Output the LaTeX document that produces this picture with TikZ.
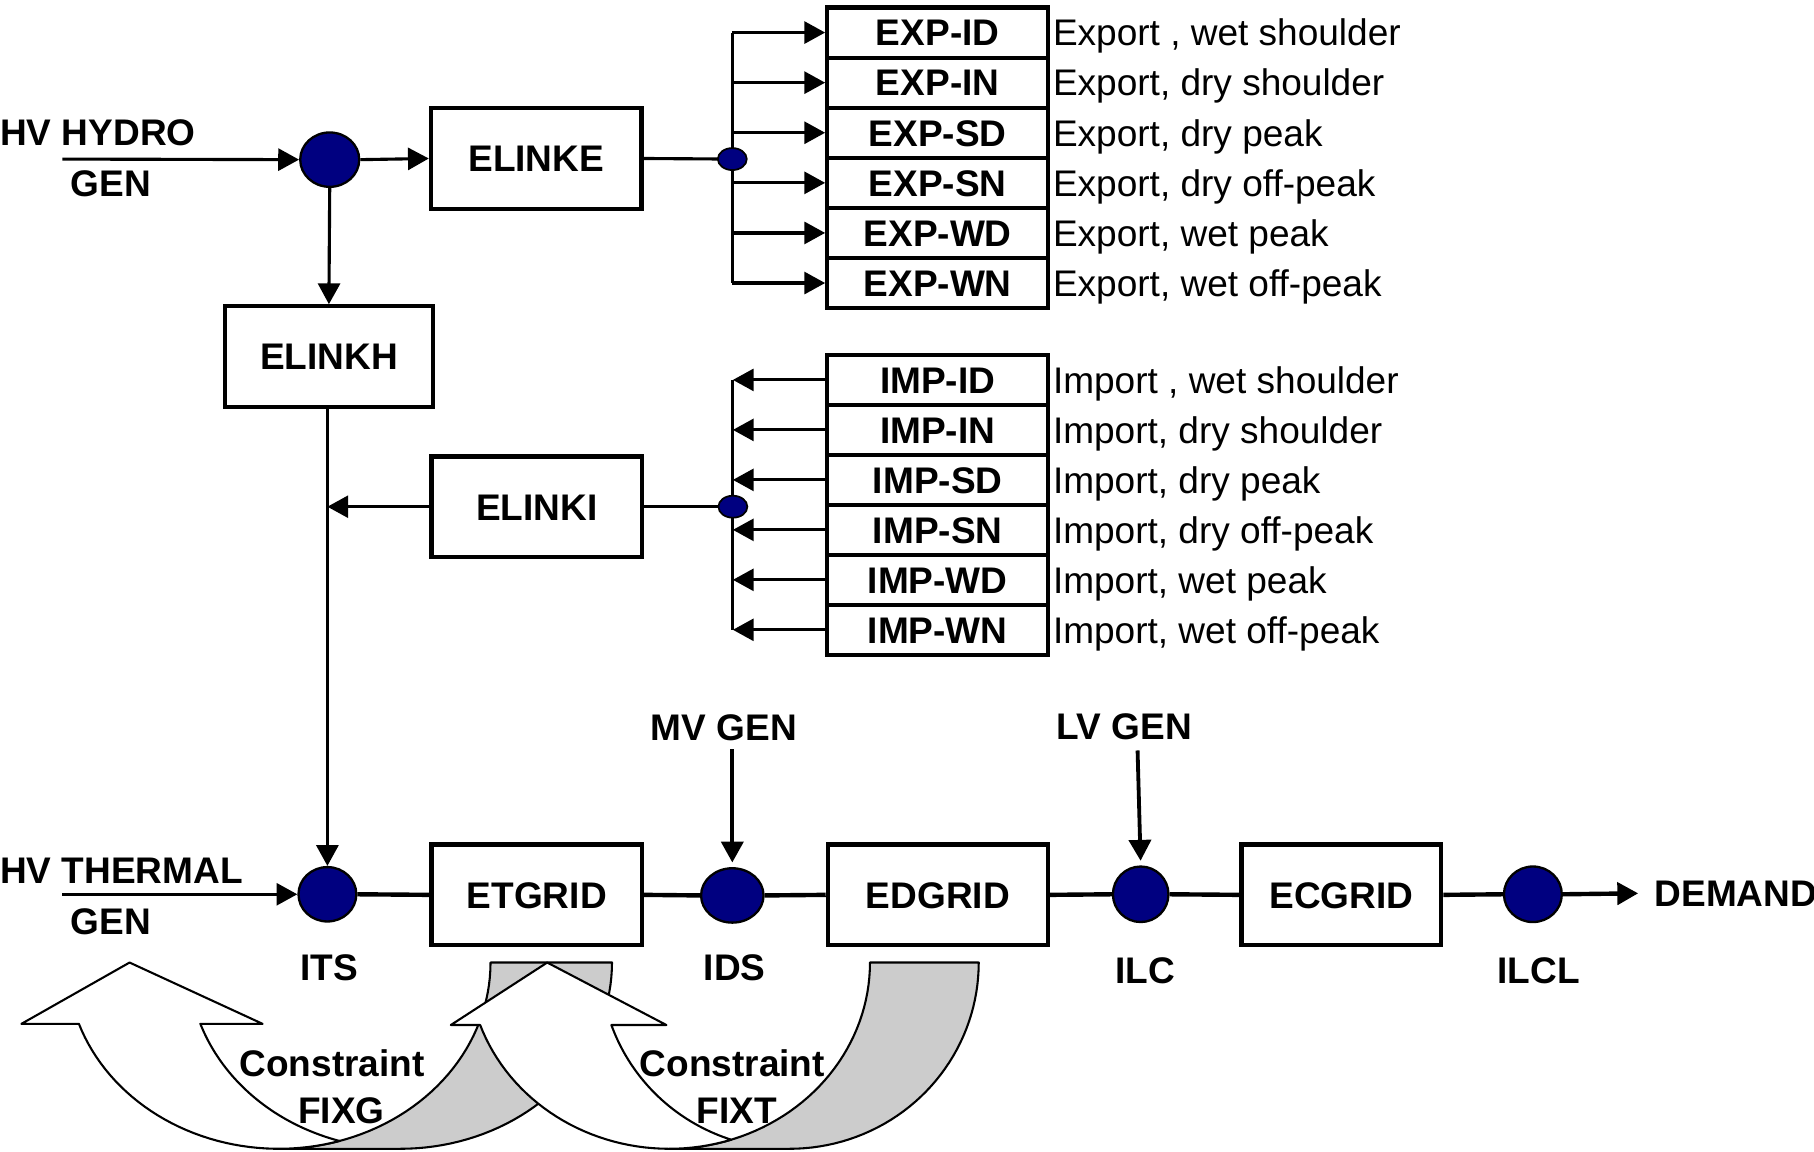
\documentclass[tikz,border=0pt]{standalone}
\usepackage{fontspec}
\setmainfont{Liberation Sans}
\usetikzlibrary{arrows.meta,shapes.geometric,calc}
\definecolor{navyfill}{RGB}{0,0,128}
\definecolor{backgray}{RGB}{204,204,204}
\begin{document}
\begin{tikzpicture}[x=1pt,y=-1pt,
  lbl/.style={font=\fontsize{32}{38}\selectfont\bfseries, inner sep=0pt, text height=23pt, text depth=0pt},
  desc/.style={font=\fontsize{32}{38}\selectfont, inner sep=0pt, text height=23pt, text depth=0pt, anchor=west},
  blk/.style={lbl, draw, line width=3.7pt, rectangle, minimum width=182pt, minimum height=87pt},
  rowbox/.style={lbl, draw, line width=3.5pt, rectangle, minimum width=191pt, minimum height=43.3pt},
  junc/.style={ellipse, draw, line width=2pt, fill=navyfill, minimum width=50pt, minimum height=47pt, inner sep=0pt},
  sjunc/.style={ellipse, draw, line width=1.5pt, fill=navyfill, minimum width=25pt, minimum height=19pt, inner sep=0pt},
  arr/.style={-{Triangle[length=18pt,width=19pt]}},
  lnA/.style={line width=2.7pt},
  lnB/.style={line width=3.8pt},
  lnC/.style={line width=3.3pt},
  band/.style={draw, line width=1.8pt, line join=round},
]
\useasboundingbox (0,0) rectangle (1568,995);

% ---------- curved constraint arrows ----------
% FIXG: back (gray) arm
\filldraw[band, fill=backgray]
  plot[domain=0:90, samples=40] ({346+183*cos(\x)},{832+161*sin(\x)})
  -- plot[domain=90:0, samples=40] ({241+183*cos(\x)},{832+161*sin(\x)}) -- cycle;
% FIXG: front (white) arm with head
\filldraw[band, fill=white]
  plot[domain=73.3:160.8, samples=40] ({241+183*cos(\x)},{832+161*sin(\x)})
  -- (18.5,885) -- (112,832) -- (227,885)
  -- plot[domain=160.8:106.7, samples=40] ({346+183*cos(\x)},{832+161*sin(\x)}) -- cycle;
% FIXT: back (gray) arm
\filldraw[band, fill=backgray]
  plot[domain=0:90, samples=40] ({682.5+163.5*cos(\x)},{832+161*sin(\x)})
  -- plot[domain=90:0, samples=40] ({578.5+173.5*cos(\x)},{832+161*sin(\x)}) -- cycle;
% FIXT: front (white) arm with head
\filldraw[band, fill=white]
  plot[domain=72.05:160.4, samples=40] ({578.5+173.5*cos(\x)},{832+161*sin(\x)})
  -- (389.7,886) -- (473,832) -- (576,886)
  -- plot[domain=160.4:108, samples=40] ({682.5+163.5*cos(\x)},{832+161*sin(\x)}) -- cycle;

\node[lbl] (c1a) at (287,919) {Constraint};
\node[lbl] (c1b) at (295,960) {FIXG};
\node[lbl] (c2a) at (633,919) {Constraint};
\node[lbl] (c2b) at (637,960) {FIXT};

% ---------- top: hydro / export ----------
\node[lbl, anchor=west] (hvh) at (0,114) {HV HYDRO};
\node[lbl] (hvhg) at (96,158.5) {GEN};
\coordinate (hydin) at (54,137.5);
\node[junc, minimum width=51pt] (J) at (285,138) {};
\node[blk] (elinke) at (463.5,137) {ELINKE};
\node[blk, minimum width=179.5pt] (elinkh) at (284.3,308.3) {ELINKH};
\node[blk] (elinki) at (464,438) {ELINKI};
\coordinate (sepos) at (633,137.5);
\coordinate (sipos) at (633.5,438);

\foreach \lab/\txt [count=\k] in {EXP-ID/{Export , wet shoulder}, EXP-IN/{Export, dry shoulder}, EXP-SD/{Export, dry peak}, EXP-SN/{Export, dry off-peak}, EXP-WD/{Export, wet peak}, EXP-WN/{Export, wet off-peak}} {
  \node[rowbox] (exp\k) at (810.5,{6.5+43.3*(\k-0.5)}) {\lab};
  \node[desc] (expd\k) at (910,{6.5+43.3*(\k-0.5)}) {\txt};
}
\foreach \lab/\txt [count=\k] in {IMP-ID/{Import , wet shoulder}, IMP-IN/{Import, dry shoulder}, IMP-SD/{Import, dry peak}, IMP-SN/{Import, dry off-peak}, IMP-WD/{Import, wet peak}, IMP-WN/{Import, wet off-peak}} {
  \node[rowbox] (imp\k) at (810.5,{306.8+43.2*(\k-0.5)}) {\lab};
  \node[desc] (impd\k) at (910,{306.8+43.2*(\k-0.5)}) {\txt};
}

% ---------- bottom row ----------
\node[lbl, anchor=west] (hvt) at (0,752) {HV THERMAL};
\node[lbl] (hvtg) at (96,796) {GEN};
\coordinate (thin0) at (54,773);
\node[junc] (its) at (283,773) {};
\node[blk] (etgrid) at (464,773.5) {ETGRID};
\node[junc, minimum width=54pt] (ids) at (633,774) {};
\node[blk, minimum width=190pt] (edgrid) at (810.6,773.5) {EDGRID};
\node[junc, minimum width=48pt, minimum height=48pt] (ilc) at (986,773) {};
\node[blk, minimum width=172.7pt] (ecgrid) at (1159.4,773.5) {ECGRID};
\node[junc, minimum height=48pt] (ilcl) at (1325,773) {};
\node[lbl, anchor=west] (dem) at (1430,772) {DEMAND};

\node[lbl] (itsl) at (284.5,836) {ITS};
\node[lbl] (idsl) at (635,836) {IDS};
\node[lbl] (ilcl0) at (990,838.5) {ILC};
\node[lbl] (ilcll) at (1330,838.5) {ILCL};
\node[lbl] (mv) at (625.7,629) {MV GEN};
\node[lbl] (lv) at (972,628) {LV GEN};

% ---------- connectors ----------
\draw[lnA,arr] (hydin) -- (J.west);
\draw[lnA,arr] (J.east) -- (elinke.west);
\draw[lnA,arr] (J.south) -- (elinkh.north);
\draw[lnA] (elinke.east) -- (sepos);
\draw[lnA] (sepos |- exp1) -- (sepos |- exp6);
\foreach \k in {1,...,6} \draw[lnA,arr] (sepos |- exp\k) -- (exp\k.west);

\draw[lnA] (elinki.east) -- (sipos);
\draw[lnA] (sipos |- imp1) -- (sipos |- imp6);
\foreach \k in {1,...,6} \draw[lnA,arr] (imp\k.west) -- (sipos |- imp\k);
\draw[lnA,arr] (elinki.west) -- (elinki.west -| its);
\draw[lnA,arr] (elinkh.south -| its) -- (its.north);

\node[sjunc] (se) at (sepos) {};
\node[sjunc] (si) at (sipos) {};

\draw[lnA,arr] (thin0) -- (its.west);
\draw[lnB] (its.east) -- (etgrid.west);
\draw[lnB] (etgrid.east) -- (ids.west);
\draw[lnB] (ids.east) -- (edgrid.west);
\draw[lnB] (edgrid.east) -- (ilc.west);
\draw[lnB] (ilc.east) -- (ecgrid.west);
\draw[lnB] (ecgrid.east) -- (ilcl.west);
\draw[lnB,arr,shorten >=14pt] (ilcl.east) -- (dem.west);
\draw[lnC,arr,shorten >=4pt] ($(mv.south -| ids)+(0,7)$) -- (ids.north);
\draw[lnC,arr,shorten >=4pt] ($(lv.south)+(11.3,9)$) -- (ilc.north);
\end{tikzpicture}
\end{document}
